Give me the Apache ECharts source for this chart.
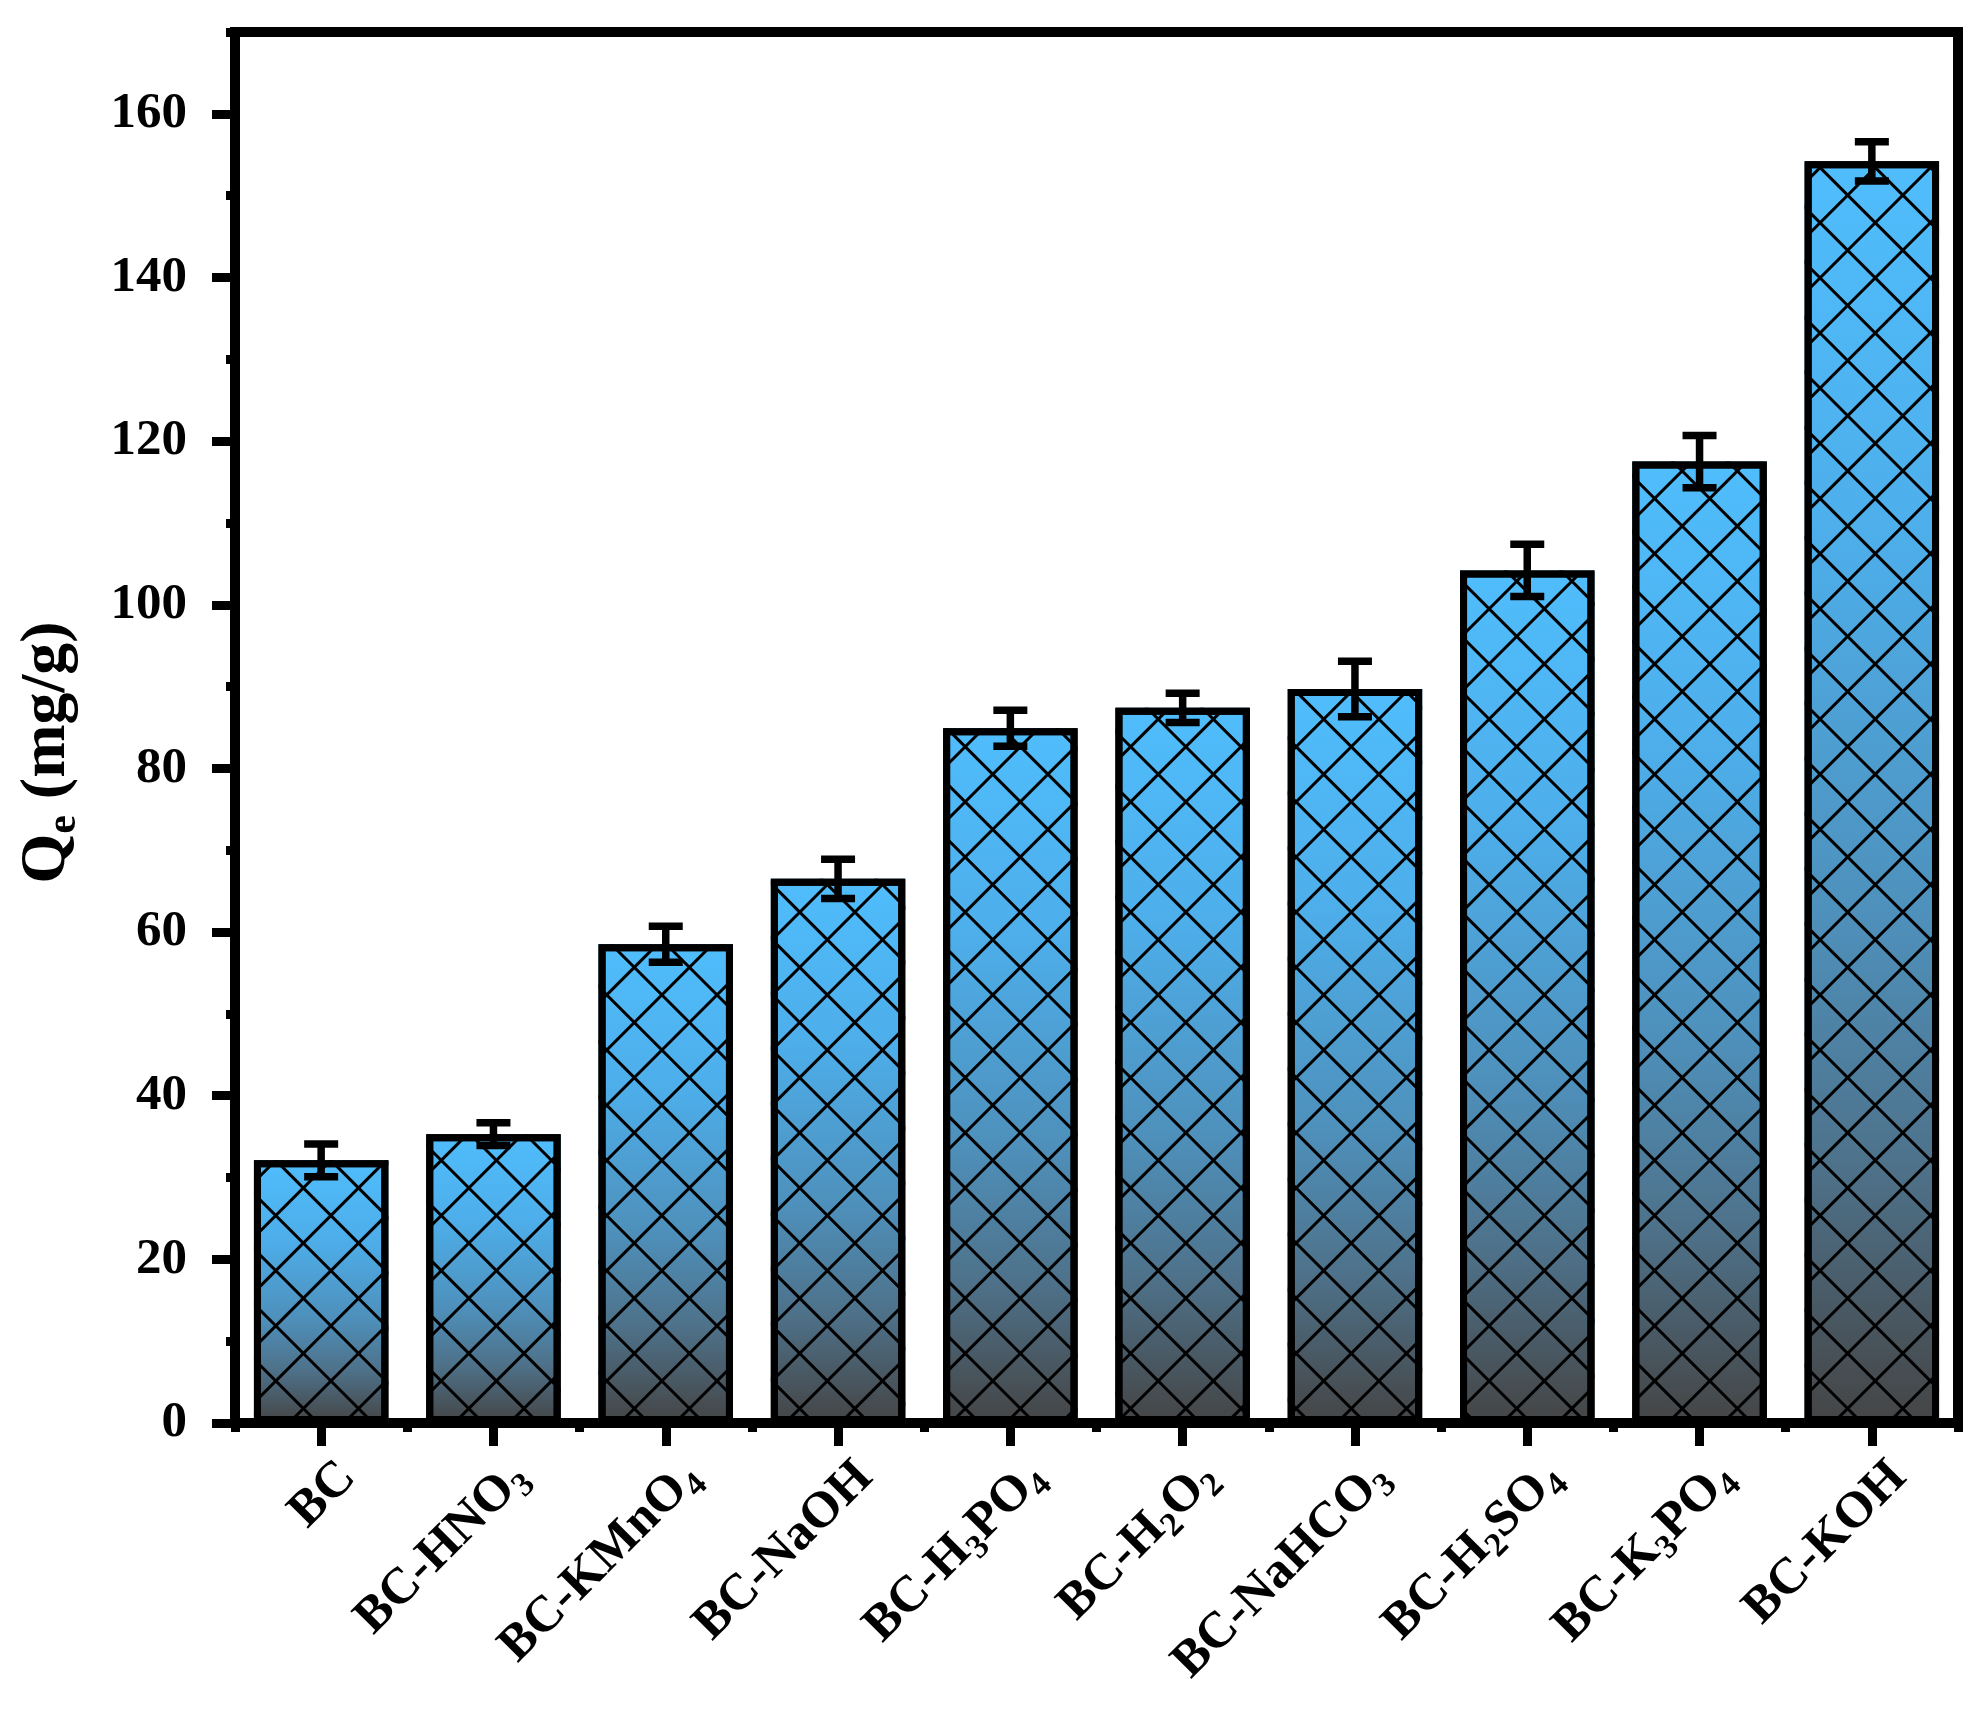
<!DOCTYPE html>
<html>
<head>
<meta charset="utf-8">
<title>Qe by biochar treatment</title>
<script src="https://cdn.jsdelivr.net/npm/echarts@6/dist/echarts.min.js"></script>
<style>
  html, body { margin: 0; padding: 0; background: #fff; }
  #chart { width: 1988px; height: 1711px; }
</style>
</head>
<body>
<div id="chart"></div>
<script>
// categories (rich text for the subscripts)
const categories = [
    'BC',
    'BC-HNO{s|3}',
    'BC-KMnO{s|4}',
    'BC-NaOH',
    'BC-H{s|3}PO{s|4}',
    'BC-H{s|2}O{s|2}',
    'BC-NaHCO{s|3}',
    'BC-H{s|2}SO{s|4}',
    'BC-K{s|3}PO{s|4}',
    'BC-KOH'
];
// Qe (mg/g) and error bar half-length
const qeValues = [32.1, 35.3, 58.5, 66.5, 84.9, 87.4, 89.7, 104.2, 117.5, 154.2];
const qeErrors = [2.0, 1.4, 2.2, 2.4, 2.2, 1.8, 3.4, 3.2, 3.2, 2.4];
const majorTicks = [0, 20, 40, 60, 80, 100, 120, 140, 160];
const minorTicks = [10, 30, 50, 70, 90, 110, 130, 150, 170];

const fontFamily = '"Liberation Serif", "Times New Roman", serif';

const myChart = echarts.init(document.getElementById('chart'));

let errorData = [];
for (let i = 0; i < qeValues.length; i++) {
    errorData.push([i, qeValues[i] - qeErrors[i], qeValues[i] + qeErrors[i]]);
}

const barFill = new echarts.graphic.LinearGradient(0, 0, 0, 1, [
    {offset: 0, color: '#50bdfc'},
    {offset: 0.3, color: '#4daeea'},
    {offset: 0.6, color: '#4e90bb'},
    {offset: 0.8, color: '#4e7189'},
    {offset: 1, color: '#454545'}
]);

function hatch(angle) {
    return {
        symbol: 'rect',
        symbolSize: 1,
        symbolKeepAspect: false,
        color: '#000',
        dashArrayX: [1, 0],
        dashArrayY: [2.8, 35.4],
        rotation: angle
    };
}

let option = {
    animation: false,
    backgroundColor: '#fff',
    grid: {
        left: 235,
        right: 30,
        top: 32,
        bottom: 288,
        show: true,
        borderColor: '#000',
        borderWidth: 10,
        backgroundColor: 'transparent'
    },
    xAxis: [{
        type: 'category',
        data: categories,
        position: 'bottom',
        axisLine: {show: true, lineStyle: {color: '#000', width: 10}},
        axisTick: {show: true, alignWithLabel: true, length: 23, lineStyle: {color: '#000', width: 9}},
        axisLabel: {
            interval: 0,
            rotate: 45,
            margin: 20,
            padding: [76, 0, 0, 0],
            color: '#000',
            fontFamily: fontFamily,
            fontWeight: 'bold',
            fontSize: 51,
            lineHeight: 62,
            rich: {
                s: {
                    fontFamily: fontFamily,
                    fontWeight: 'bold',
                    fontSize: 34,
                    lineHeight: 32,
                    verticalAlign: 'bottom',
                    color: '#000'
                }
            }
        },
        splitLine: {show: false}
    }, {
        // short ticks on category boundaries
        type: 'category',
        data: categories,
        position: 'bottom',
        axisLine: {show: false},
        axisTick: {show: true, alignWithLabel: false, length: 9, lineStyle: {color: '#000', width: 9}},
        axisLabel: {show: false},
        splitLine: {show: false}
    }],
    yAxis: [{
        type: 'value',
        min: 0,
        max: 170,
        interval: 20,
        position: 'left',
        name: '{a|Q}{b|e}{a| (mg/g)}',
        nameLocation: 'middle',
        nameGap: 150,
        nameTextStyle: {
            padding: [0, 50, 0, 0],
            rich: {
                a: {fontFamily: fontFamily, fontWeight: 'bold', fontSize: 64, lineHeight: 76, color: '#000'},
                b: {fontFamily: fontFamily, fontWeight: 'bold', fontSize: 42, lineHeight: 40, verticalAlign: 'bottom', color: '#000'}
            }
        },
        axisLine: {show: true, lineStyle: {color: '#000', width: 10}},
        axisTick: {show: true, customValues: majorTicks, length: 23, lineStyle: {color: '#000', width: 9}},
        axisLabel: {
            customValues: majorTicks,
            margin: 48,
            color: '#000',
            fontFamily: fontFamily,
            fontWeight: 'bold',
            fontSize: 51
        },
        splitLine: {show: false}
    }, {
        // minor ticks
        type: 'value',
        min: 0,
        max: 170,
        interval: 10,
        position: 'left',
        axisLine: {show: false},
        axisTick: {show: true, customValues: minorTicks, length: 9, lineStyle: {color: '#000', width: 9}},
        axisLabel: {show: false},
        splitLine: {show: false}
    }],
    series: [{
        name: 'Qe',
        type: 'bar',
        xAxisIndex: 0,
        yAxisIndex: 0,
        barWidth: '78%',
        itemStyle: {
            color: barFill,
            decal: hatch(Math.PI / 4)
        },
        data: qeValues
    }, {
        name: 'Qe hatch',
        type: 'bar',
        xAxisIndex: 0,
        yAxisIndex: 0,
        barWidth: '78%',
        barGap: '-100%',
        itemStyle: {
            color: 'rgba(0,0,0,0)',
            borderColor: '#000',
            borderWidth: 7,
            decal: hatch(-Math.PI / 4)
        },
        data: qeValues
    }, {
        name: 'error',
        type: 'custom',
        xAxisIndex: 0,
        yAxisIndex: 0,
        z: 5,
        renderItem: function (params, api) {
            const top = api.coord([api.value(0), api.value(2)]);
            const bottom = api.coord([api.value(0), api.value(1)]);
            const hw = 17;
            const style = {stroke: '#000', lineWidth: 7.5, fill: null};
            return {
                type: 'group',
                children: [
                    {type: 'line', shape: {x1: top[0], y1: top[1], x2: bottom[0], y2: bottom[1]}, style: style},
                    {type: 'line', shape: {x1: top[0] - hw, y1: top[1], x2: top[0] + hw, y2: top[1]}, style: style},
                    {type: 'line', shape: {x1: bottom[0] - hw, y1: bottom[1], x2: bottom[0] + hw, y2: bottom[1]}, style: style}
                ]
            };
        },
        encode: {x: 0, y: [1, 2]},
        data: errorData
    }]
};

myChart.setOption(option);
window.addEventListener('resize', function () {
    myChart.resize();
});
</script>
</body>
</html>
